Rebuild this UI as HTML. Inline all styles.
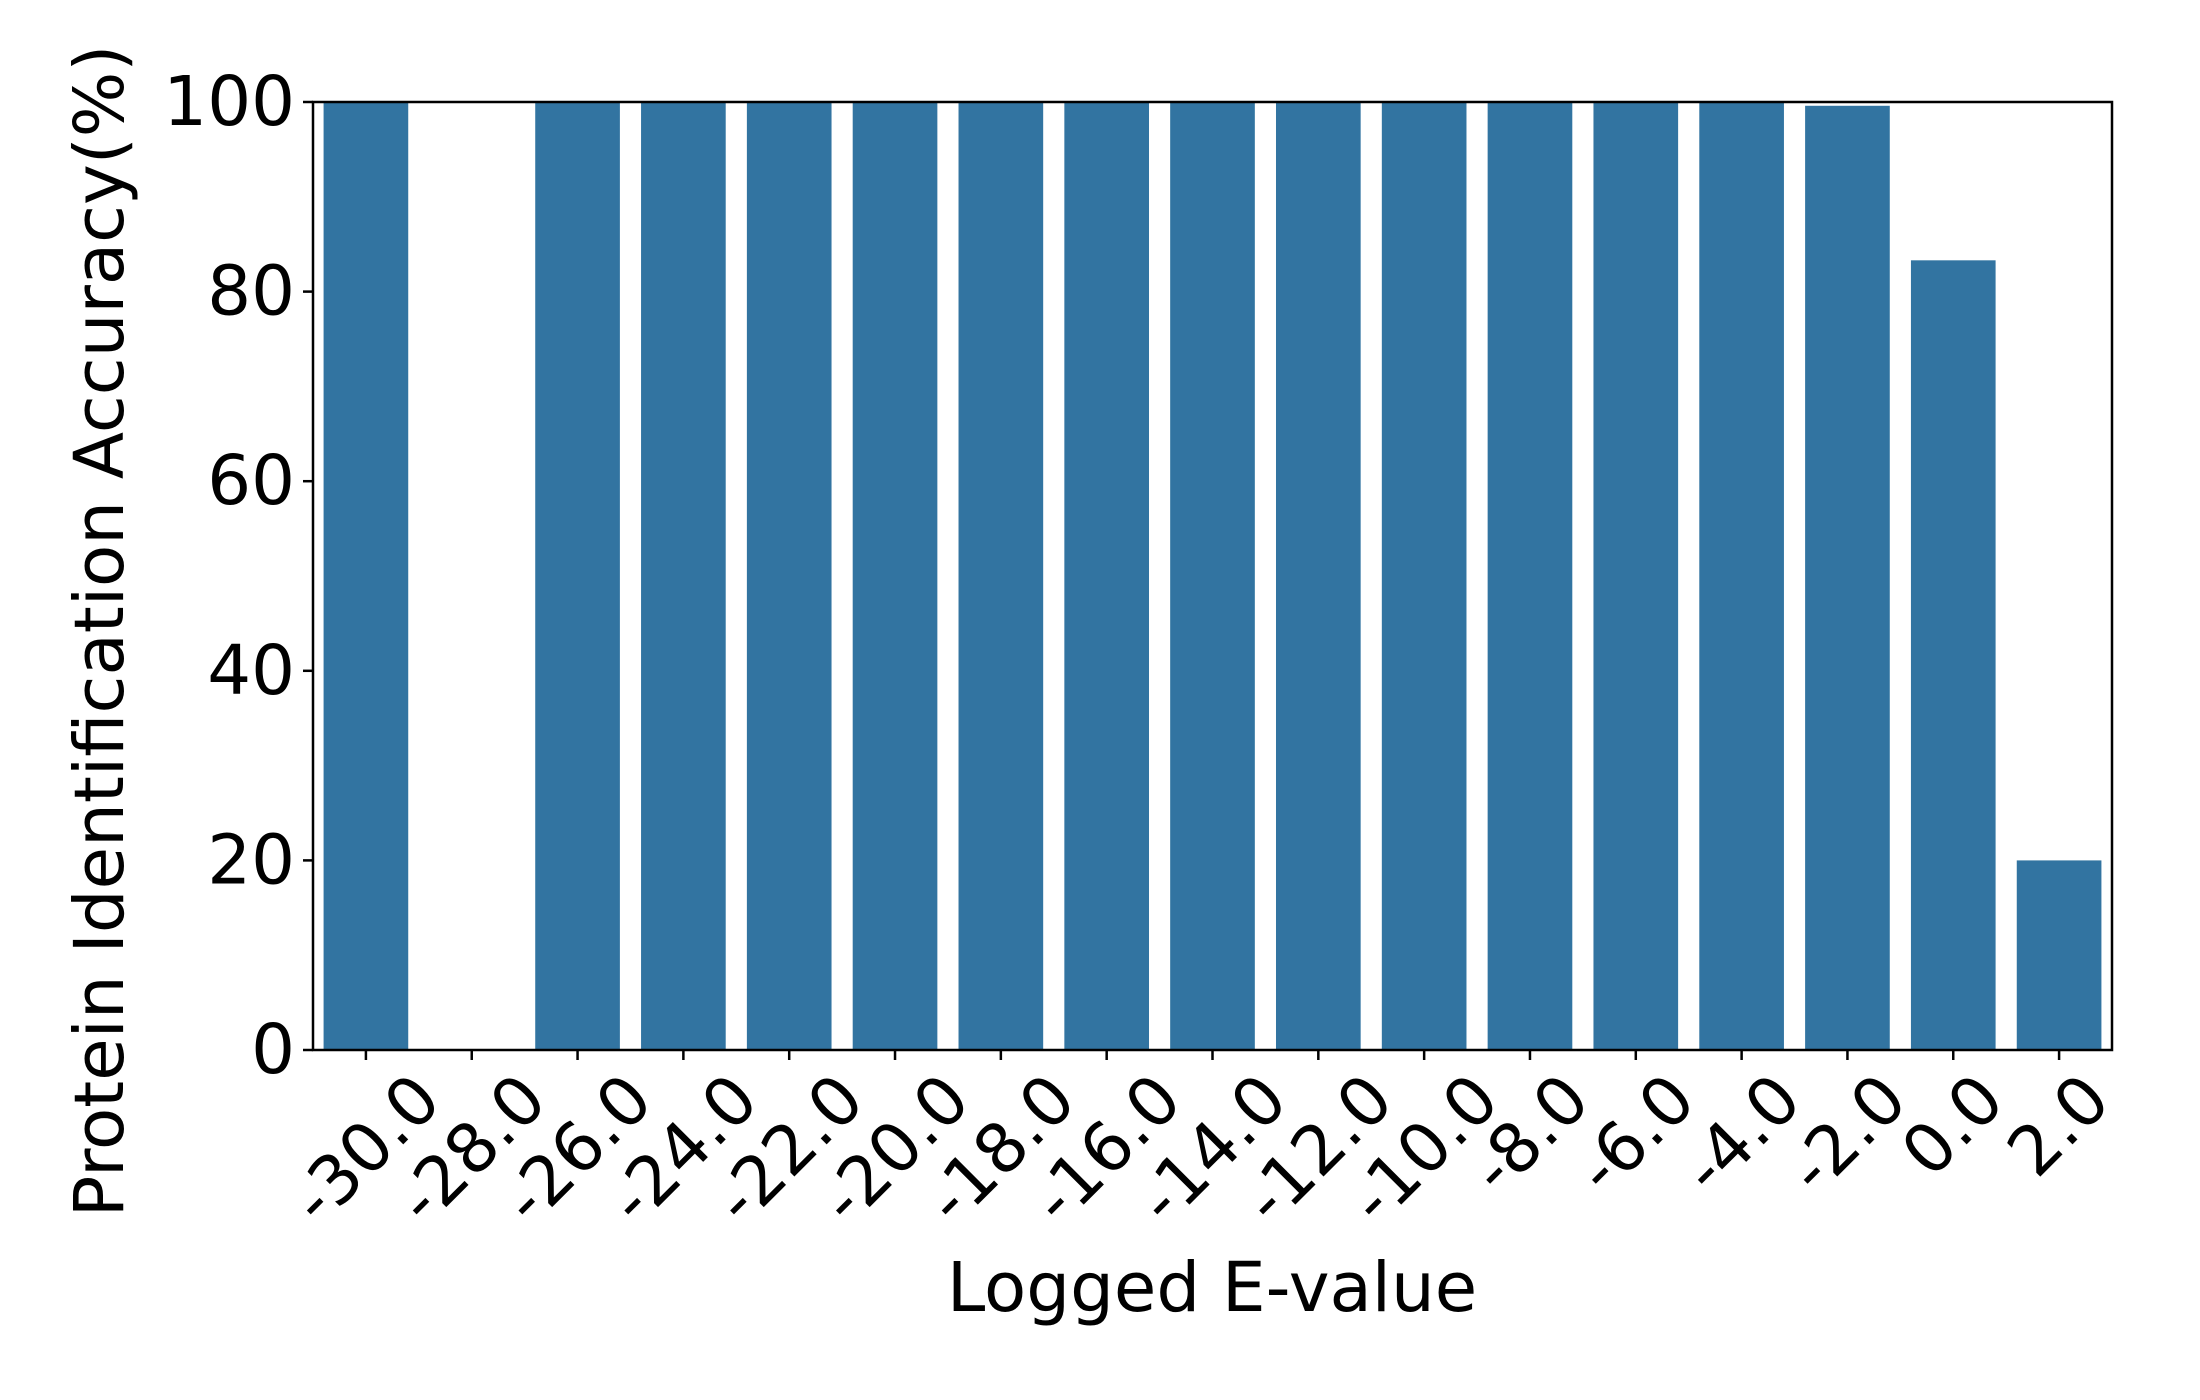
<!DOCTYPE html>
<html><head><meta charset="utf-8"><style>
html,body{margin:0;padding:0;background:#fff;}
svg{display:block;font-family:"DejaVu Sans","Liberation Sans",sans-serif;}
</style></head><body>
<svg id="chart" width="2200" height="1400" viewBox="0 0 2200 1400" xmlns="http://www.w3.org/2000/svg">
<g id="bars"></g>
<g id="axes"></g>
<text x="1212" y="1311" font-size="69" text-anchor="middle">Logged E-value</text>
<text transform="translate(123,631) rotate(-90)" font-size="69" text-anchor="middle">Protein Identification Accuracy(%)</text>
</svg>
<script>
const categories = ["-30.0","-28.0","-26.0","-24.0","-22.0","-20.0","-18.0","-16.0","-14.0","-12.0","-10.0","-8.0","-6.0","-4.0","-2.0","0.0","2.0"];
const values = [100,0,100,100,100,100,100,100,100,100,100,100,100,100,99.6,83.3,20];
const yTicks = [0,20,40,60,80,100];

const L=313,R=2112,T=102,B=1050;
const NS="http://www.w3.org/2000/svg";
const step=(R-L)/categories.length;
const xc=i=>L+step*(i+0.5);
const y=v=>B-(v/100)*(B-T);
function mk(tag,attrs,parent){const e=document.createElementNS(NS,tag);for(const k in attrs)e.setAttribute(k,attrs[k]);parent.appendChild(e);return e;}
const bars=document.getElementById('bars'),axes=document.getElementById('axes');
values.forEach((v,i)=>{
  const w=step*0.8;
  const r=mk('rect',{x:xc(i)-w/2,y:y(v),width:w,height:B-y(v),fill:'#3274a1'},bars);
  
  
});
const frame=mk('rect',{x:L,y:T,width:R-L,height:B-T,fill:'none',stroke:'#000','stroke-width':2.5},axes);


yTicks.forEach(t=>{
  mk('line',{x1:L-10,x2:L,y1:y(t),y2:y(t),stroke:'#000','stroke-width':2.5},axes);
  const tx=mk('text',{x:L-18,y:y(t),'font-size':69,'text-anchor':'end','dominant-baseline':'central'},axes);
  tx.textContent=t;
  
  
});
categories.forEach((c,i)=>{
  const x=xc(i);
  mk('line',{x1:x,x2:x,y1:B,y2:B+10,stroke:'#000','stroke-width':2.5},axes);
  const tx=mk('text',{x:0,y:0,'font-size':68,'text-anchor':'middle','dominant-baseline':'central'},axes);
  tx.textContent=c;
  
  
  const len=tx.getComputedTextLength(),h=50;
  const cy=B+20+(len+h)/(2*Math.SQRT2);
  tx.setAttribute('transform','translate('+x+','+cy+') rotate(-45)');
});
</script>
</body></html>
